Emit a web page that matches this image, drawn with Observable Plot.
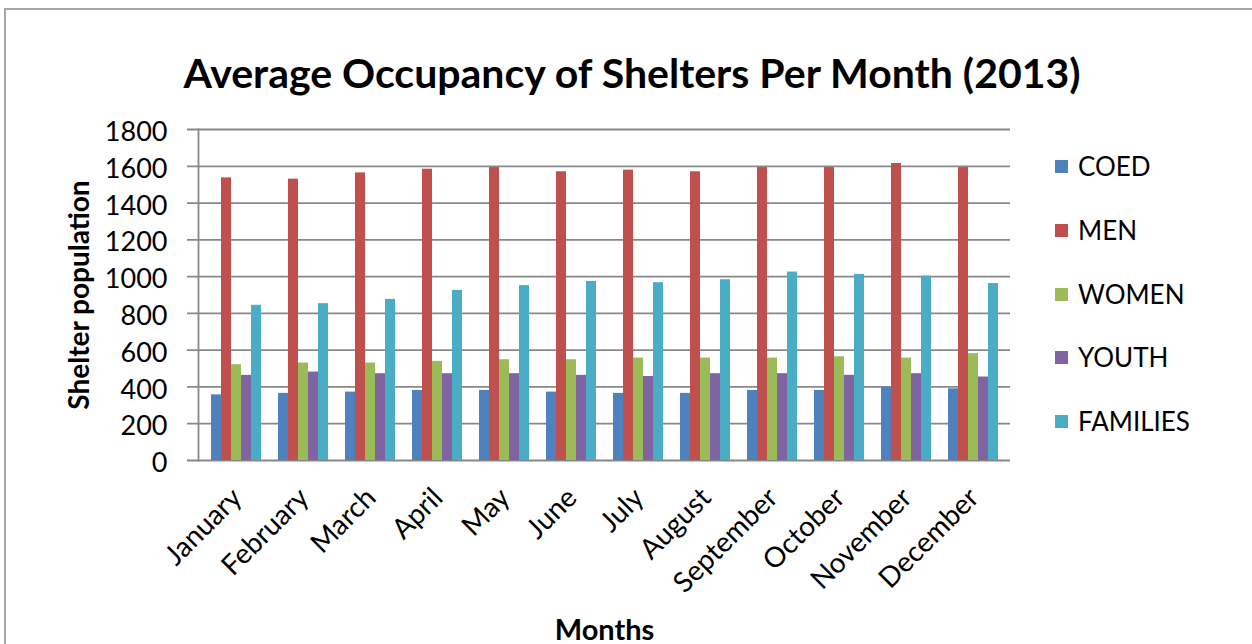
<!DOCTYPE html>
<html>
<head>
<meta charset="utf-8">
<script src="https://cdn.jsdelivr.net/npm/d3@7"></script>
<script src="https://cdn.jsdelivr.net/npm/@observablehq/plot@0.6"></script>
<style>
  html, body { margin: 0; padding: 0; background: #fff; }
  #wrap { position: relative; width: 1252px; height: 644px; overflow: hidden; font-family: Lato, "Open Sans", sans-serif; }
  #border { position: absolute; left: 4px; top: 8px; width: 1300px; height: 700px; border-top: 2px solid #a6a6a6; border-left: 2px solid #a6a6a6; }
  #title { position: absolute; left: 0; top: 0; width: 1252px; height: 110px; display: flex; align-items: center; justify-content: center; }
  #title span { font-weight: 700; font-size: 41px; color: #000; white-space: nowrap; display: inline-block; margin-left: 12px; margin-top: 34px; }
  .layer { position: absolute; left: 0; top: 110px; }
  #legend { position: absolute; left: 1055px; top: 0; }
  .item { position: absolute; left: 0; white-space: nowrap; font-size: 26px; color: #000; display: flex; align-items: center; }
  .sw { width: 13px; height: 13px; margin-right: 10px; }
</style>
</head>
<body>
<div id="wrap">
  <div id="border"></div>
  <div id="title"><span></span></div>
  <div id="axes" class="layer"></div>
  <div id="bars" class="layer"></div>
  <div id="legend"></div>
</div>
<script>
const title = "Average Occupancy of Shelters Per Month (2013)";
const yLabel = "Shelter population";
const xLabel = "Months";
const months = ["January","February","March","April","May","June","July","August","September","October","November","December"];
const series = ["COED","MEN","WOMEN","YOUTH","FAMILIES"];
const coed     = [357, 365, 372, 381, 381, 372, 365, 365, 381, 381, 399, 390];
const men      = [1537, 1530, 1564, 1584, 1593, 1570, 1579, 1570, 1593, 1593, 1615, 1593];
const women    = [521, 530, 530, 539, 548, 548, 557, 557, 557, 564, 557, 581];
const youth    = [463, 481, 472, 472, 472, 463, 457, 472, 472, 463, 472, 454];
const families = [844, 853, 876, 925, 951, 974, 967, 983, 1025, 1012, 1003, 962];
const colors = ["#4F81BD", "#C0504D", "#9BBB59", "#8064A2", "#4BACC6"];
const yTicks = [0, 200, 400, 600, 800, 1000, 1200, 1400, 1600, 1800];

const valuesBySeries = [coed, men, women, youth, families];
const data = months.flatMap((m, i) => series.map((s, j) => ({month: m, series: s, value: valuesBySeries[j][i]})));

document.querySelector("#title span").textContent = title;

const common = {
  width: 1252,
  height: 534,
  marginLeft: 198,
  marginRight: 242,
  marginTop: 19,
  marginBottom: 184,
  style: {fontFamily: "Lato, 'Open Sans', sans-serif", color: "#000", background: "transparent", overflow: "visible"},
  y: {domain: [0, 1800], axis: null}
};
const bandPad = {paddingInner: 0.234, paddingOuter: 0.103};

// background layer: grid, y axis, month labels, axis titles
const axes = Plot.plot({
  ...common,
  x: {domain: months, ...bandPad, axis: null},
  marks: [
    Plot.ruleY(yTicks, {stroke: "#888", strokeWidth: 1.8, insetLeft: -11}),
    Plot.frame({anchor: "left", stroke: "#888", strokeWidth: 1.8}),
    Plot.text(yTicks, {y: d => d, text: d => String(d), frameAnchor: "left", textAnchor: "end", dx: -31, dy: 3, fontSize: 27, fill: "#000"}),
    Plot.text(months, {x: d => d, text: d => d, frameAnchor: "bottom", rotate: -45, textAnchor: "end", dx: 7, dy: 39, fontSize: 28, fill: "#000"}),
    Plot.text([yLabel], {text: d => d, frameAnchor: "left", rotate: -90, textAnchor: "middle", dx: -118, fontSize: 28, fontWeight: 700, fill: "#000"}),
    Plot.text([xLabel], {text: d => d, frameAnchor: "bottom", dy: 179, fontSize: 29, fontWeight: 700, fill: "#000"})
  ]
});
document.getElementById("axes").appendChild(axes);

// foreground layer: grouped bars
const bars = Plot.plot({
  ...common,
  fx: {domain: months, ...bandPad, axis: null, label: null},
  x: {domain: series, padding: 0, axis: null},
  color: {domain: series, range: colors},
  marks: [
    Plot.barY(data, {fx: "month", x: "series", y: "value", fill: "series"})
  ]
});
document.getElementById("bars").appendChild(bars);

const legend = document.getElementById("legend");
const legendY = [166, 230, 294, 357, 421];
series.forEach((s, i) => {
  const item = document.createElement("div");
  item.className = "item";
  item.style.top = (legendY[i] - 18) + "px";
  item.style.height = "36px";
  const sw = document.createElement("span");
  sw.className = "sw";
  sw.style.background = colors[i];
  const t = document.createElement("span");
  t.textContent = s;
  item.appendChild(sw);
  item.appendChild(t);
  legend.appendChild(item);
});
</script>
</body>
</html>
